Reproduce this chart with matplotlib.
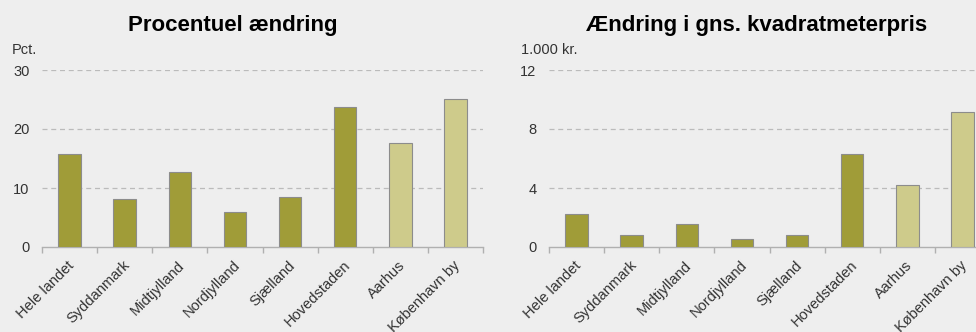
import matplotlib.pyplot as plt
import numpy as np

plt.rcParams['font.family'] = ['Liberation Sans', 'DejaVu Sans']

categories = ["Hele landet", "Syddanmark", "Midtjylland", "Nordjylland",
              "Sjælland", "Hovedstaden", "Aarhus", "København by"]
pct_change = [15.7, 8.2, 12.7, 6.0, 8.4, 23.8, 17.7, 25.1]
sqm_change = [2.26, 0.81, 1.58, 0.56, 0.79, 6.3, 4.18, 9.13]
is_city = [False, False, False, False, False, False, True, True]

dark = "#A09C38"
light = "#CECB8B"
bg = "#EEEEEE"


def draw(ax, values, ymax, yticks):
    x = np.arange(len(categories))
    colors = [light if c else dark for c in is_city]
    ax.set_facecolor(bg)
    ax.bar(x, values, width=0.41, color=colors, edgecolor="#8C8C8C", linewidth=0.8, zorder=3)
    ax.set_xlim(-0.5, len(categories) - 0.5)
    ax.set_ylim(0, ymax)
    ax.set_yticks(yticks)
    for t in yticks[1:]:
        ax.axhline(t, color="#BBBBBB", linestyle=(0, (4, 3)), linewidth=0.9, zorder=1)
    for s in ["top", "right", "left"]:
        ax.spines[s].set_visible(False)
    ax.spines["bottom"].set_color("#B0B0B0")
    ax.spines["bottom"].set_linewidth(1.0)
    ax.tick_params(axis="y", length=0, labelsize=10.5, labelcolor="#333333", pad=9)
    ax.set_xticks(np.arange(-0.5, len(categories), 1.0))
    ax.set_xticklabels([])
    ax.tick_params(axis="x", length=4, color="#B0B0B0", width=1.0, direction="out")
    for i, c in enumerate(categories):
        ax.annotate(c, xy=(i - 0.04, 0), xycoords=("data", "data"),
                    xytext=(0, -8), textcoords="offset points",
                    rotation=45, ha="right", va="top", rotation_mode="anchor",
                    fontsize=10.5, color="#333333", annotation_clip=False)


fig = plt.figure(figsize=(9.76, 3.32), dpi=100, facecolor=bg)

ax1 = fig.add_axes([42 / 976, 85 / 332, 441 / 976, 177 / 332])
draw(ax1, pct_change, 30, [0, 10, 20, 30])
ax2 = fig.add_axes([549 / 976, 85 / 332, 441 / 976, 177 / 332])
draw(ax2, sqm_change, 12, [0, 4, 8, 12])

fig.text(233 / 976, 1 - 26 / 332, "Procentuel ændring", ha="center", va="center",
         fontsize=16, fontweight="bold", color="black")
fig.text(757 / 976, 1 - 26 / 332, "Ændring i gns. kvadratmeterpris", ha="center", va="center",
         fontsize=16, fontweight="bold", color="black")
fig.text(12 / 976, 1 - 50 / 332, "Pct.", ha="left", va="center", fontsize=10.5, color="#333333")
fig.text(521 / 976, 1 - 50 / 332, "1.000 kr.", ha="left", va="center", fontsize=10.5, color="#333333")

fig.savefig("out.png", dpi=100, facecolor=bg)
